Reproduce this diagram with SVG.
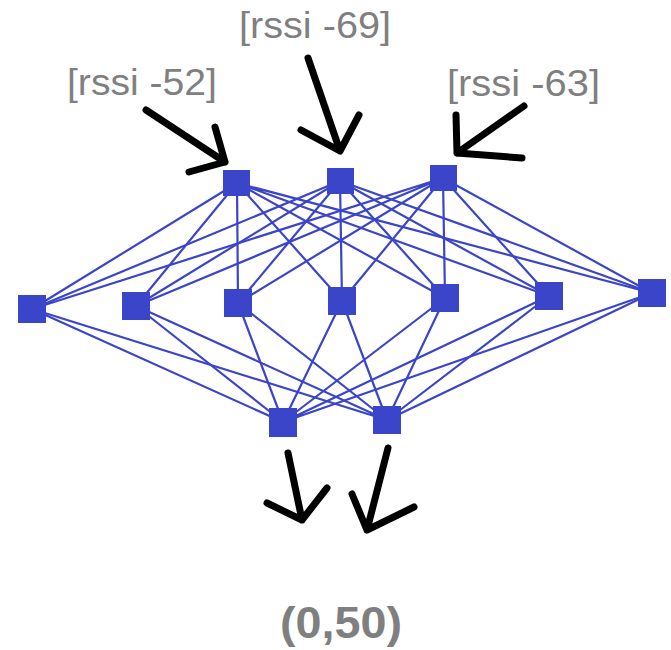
<svg xmlns="http://www.w3.org/2000/svg" width="671" height="650" viewBox="0 0 671 650">
<style>
.e{stroke:#3b45c9;stroke-width:2.2;fill:none}
.n{fill:#3b45c9}
.a{stroke:#000;stroke-width:7;fill:none;stroke-linecap:round;stroke-linejoin:round}
.l{font-family:"Liberation Sans",Arial,sans-serif;font-size:36px;fill:#7f7f7f}
.b{font-family:"Liberation Sans",Arial,sans-serif;font-size:44px;font-weight:bold;fill:#7f7f7f}
</style>
<rect width="671" height="650" fill="#fff"/>
<g id="connectors">
<g id="edges-in-hidden">
<path class="e" d="M237,183L32,309M237,183L136,306M237,183L238,303M237,183L342,301M237,183L445,298M237,183L549,296M237,183L652,293"/>
<path class="e" d="M340,181L32,309M340,181L136,306M340,181L238,303M340,181L342,301M340,181L445,298M340,181L549,296M340,181L652,293"/>
<path class="e" d="M443,178L32,309M443,178L136,306M443,178L238,303M443,178L342,301M443,178L445,298M443,178L549,296M443,178L652,293"/>
</g>
<g id="edges-hidden-out">
<path class="e" d="M32,309L283,422M136,306L283,422M238,303L283,422M342,301L283,422M445,298L283,422M549,296L283,422M652,293L283,422"/>
<path class="e" d="M32,309L387,420M136,306L387,420M238,303L387,420M342,301L387,420M445,298L387,420M549,296L387,420M652,293L387,420"/>
</g>
<g id="arrows">
<path class="a" d="M146,110L225,162M189,172L225,162L215,127"/>
<path class="a" d="M308,58L340,151M301,130L340,151L359,115"/>
<path class="a" d="M524,106L457,153M456,115L457,153L522,158"/>
<path class="a" d="M288,453L302,520M267,503L302,520L327,488"/>
<path class="a" d="M388,448L367,530M352,494L367,530L414,507"/>
</g>
</g>
<g id="i1"><rect class="n" x="223" y="170" width="27" height="26"/></g>
<g id="i2"><rect class="n" x="327" y="168" width="27" height="26"/></g>
<g id="i3"><rect class="n" x="430" y="165" width="27" height="26"/></g>
<g id="h1"><rect class="n" x="18" y="295" width="28" height="28"/></g>
<g id="h2"><rect class="n" x="122" y="292" width="28" height="28"/></g>
<g id="h3"><rect class="n" x="224" y="289" width="28" height="28"/></g>
<g id="h4"><rect class="n" x="328" y="287" width="28" height="28"/></g>
<g id="h5"><rect class="n" x="431" y="284" width="28" height="28"/></g>
<g id="h6"><rect class="n" x="535" y="282" width="28" height="28"/></g>
<g id="h7"><rect class="n" x="638" y="279" width="28" height="28"/></g>
<g id="o1"><rect class="n" x="269" y="408" width="28" height="29"/></g>
<g id="o2"><rect class="n" x="373" y="406" width="28" height="28"/></g>
<g id="labels">
<text class="l" x="67" y="95" textLength="150" lengthAdjust="spacingAndGlyphs">[rssi -52]</text>
<text class="l" x="239" y="38" textLength="152" lengthAdjust="spacingAndGlyphs">[rssi -69]</text>
<text class="l" x="447" y="96" textLength="153" lengthAdjust="spacingAndGlyphs">[rssi -63]</text>
<text class="b" x="280" y="638" textLength="122" lengthAdjust="spacingAndGlyphs">(0,50)</text>
</g>
</svg>
